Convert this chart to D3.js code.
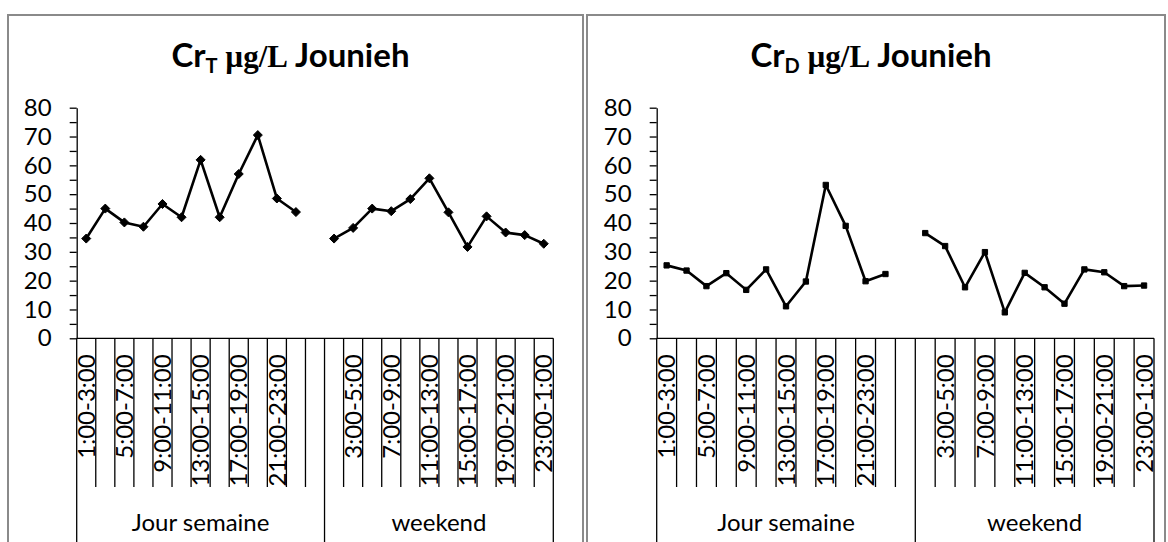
<!DOCTYPE html>
<html>
<head>
<meta charset="utf-8">
<script src="https://cdn.jsdelivr.net/npm/d3@7"></script>
<style>
  body { margin: 0; background: #fff; }
  svg { display: block; }
</style>
</head>
<body>
<svg id="chart" width="1168" height="542"></svg>
<script>
// Two-hour sampling windows
const timeSlots = [
  "1:00-3:00", "3:00-5:00", "5:00-7:00", "7:00-9:00", "9:00-11:00", "11:00-13:00",
  "13:00-15:00", "15:00-17:00", "17:00-19:00", "19:00-21:00", "21:00-23:00", "23:00-1:00"
];
const groups = ["Jour semaine", "weekend"];

// Total chromium (µg/L)
const crT_semaine = [34.6, 45.0, 40.2, 38.7, 46.6, 42.0, 61.9, 42.0, 57.0, 70.5, 48.5, 43.8];
const crT_weekend = [34.6, 38.3, 45.0, 44.1, 48.3, 55.5, 43.7, 31.7, 42.3, 36.7, 35.8, 32.8];
// Dissolved chromium (µg/L)
const crD_semaine = [25.3, 23.5, 18.1, 22.6, 16.8, 23.9, 11.1, 19.7, 53.2, 39.0, 19.8, 22.3];
const crD_weekend = [36.5, 32.0, 17.7, 29.9, 9.0, 22.7, 17.7, 12.0, 23.9, 22.9, 18.1, 18.3];

const yMax = 80;

// Category keys: weekday slots, one empty slot closing the weekday group, weekend slots
const categories = [
  ...timeSlots.map(s => groups[0] + "|" + s),
  groups[0] + "|",
  ...timeSlots.map(s => groups[1] + "|" + s)
];

const FONT = "Lato, 'Open Sans', sans-serif";
const SERIF = "'Liberation Serif', 'DejaVu Serif', serif";
const svg = d3.select("#chart");

const panels = [
  { frame: [8, 583], plot: [76.7, 553.3], sub: "T", marker: "diamond",
    semaine: crT_semaine, weekend: crT_weekend },
  { frame: [587, 1165], plot: [656.7, 1154], sub: "D", marker: "square",
    semaine: crD_semaine, weekend: crD_weekend }
];

const yTop = 107.7, yBottom = 338.3;
const tickEnd = 487, groupLineEnd = 548;

panels.forEach(p => {
  const g = svg.append("g");

  // panel frame
  g.append("rect")
    .attr("x", p.frame[0]).attr("y", 15)
    .attr("width", p.frame[1] - p.frame[0]).attr("height", 560)
    .attr("fill", "#fff").attr("stroke", "#8a8a8a").attr("stroke-width", 2);

  // title
  const cx = (p.frame[0] + p.frame[1]) / 2 - 5;
  const title = g.append("text")
    .attr("x", cx).attr("y", 67)
    .attr("text-anchor", "middle")
    .attr("font-family", FONT).attr("font-weight", "bold")
    .attr("font-size", 33).attr("fill", "#000");
  title.append("tspan").text("Cr");
  title.append("tspan").attr("dy", 6).attr("font-size", 20).text(p.sub);
  title.append("tspan").attr("dy", -6)
    .attr("font-family", SERIF).attr("font-size", 31)
    .text(" \u00b5g/L");
  title.append("tspan").text(" Jounieh");

  const x = d3.scaleBand().domain(categories).range(p.plot).paddingInner(0).paddingOuter(0);
  const y = d3.scaleLinear().domain([0, yMax]).range([yBottom, yTop]);
  const bw = x.bandwidth();

  // y axis
  const yAxis = d3.axisLeft(y)
    .tickValues(d3.range(0, yMax + 1, 5))
    .tickSize(7).tickSizeOuter(0).tickPadding(18)
    .tickFormat(d => d % 10 === 0 ? d : "");
  const ya = g.append("g").attr("transform", `translate(${p.plot[0]},0)`).call(yAxis);
  ya.selectAll("path,line").attr("stroke", "#000").attr("stroke-width", 1.3);
  ya.selectAll("text").attr("font-family", FONT).attr("font-size", 24).attr("fill", "#000");

  // x axis baseline
  g.append("line")
    .attr("x1", p.plot[0]).attr("x2", p.plot[1])
    .attr("y1", y(0)).attr("y2", y(0))
    .attr("stroke", "#000").attr("stroke-width", 1.3);

  // category boundaries; group boundaries run down through the group labels
  const groupStarts = new Set([0, timeSlots.length + 1, categories.length]);
  const bounds = d3.range(categories.length + 1);
  g.append("g").selectAll("line").data(bounds).join("line")
    .attr("x1", i => i < categories.length ? x(categories[i]) : p.plot[1])
    .attr("x2", i => i < categories.length ? x(categories[i]) : p.plot[1])
    .attr("y1", y(0))
    .attr("y2", i => groupStarts.has(i) ? groupLineEnd : tickEnd)
    .attr("stroke", "#000").attr("stroke-width", 1.3);

  // category labels, every other slot
  g.append("g").selectAll("text")
    .data(categories.filter((c, i) => i % 2 === 0))
    .join("text")
    .attr("transform", c => `translate(${x(c) + bw / 2},${y(0) + 16}) rotate(-90)`)
    .attr("dy", "0.36em")
    .attr("text-anchor", "end")
    .attr("font-family", FONT).attr("font-size", 24).attr("fill", "#000")
    .text(c => c.split("|")[1]);

  // group labels
  const groupSpans = [
    [x(categories[0]), x(categories[timeSlots.length + 1])],
    [x(categories[timeSlots.length + 1]), p.plot[1]]
  ];
  g.append("g").selectAll("text").data(groups).join("text")
    .attr("x", (d, i) => (groupSpans[i][0] + groupSpans[i][1]) / 2)
    .attr("y", 531)
    .attr("text-anchor", "middle")
    .attr("font-family", FONT).attr("font-size", 24).attr("fill", "#000")
    .text(d => d);

  // data lines, broken between the two groups
  const line = d3.line().x(d => x(d.cat) + bw / 2).y(d => y(d.v));
  const series = [
    p.semaine.map((v, i) => ({ cat: groups[0] + "|" + timeSlots[i], v })),
    p.weekend.map((v, i) => ({ cat: groups[1] + "|" + timeSlots[i], v }))
  ];
  const sym = d3.symbol()
    .type(p.marker === "diamond" ? d3.symbolDiamond2 : d3.symbolSquare2)
    .size(p.marker === "diamond" ? 52 : 36);

  series.forEach(s => {
    g.append("path").datum(s)
      .attr("d", line)
      .attr("fill", "none").attr("stroke", "#000")
      .attr("stroke-width", 2.6).attr("stroke-linejoin", "round");
    g.append("g").selectAll("path").data(s).join("path")
      .attr("transform", d => `translate(${x(d.cat) + bw / 2},${y(d.v)})`)
      .attr("d", sym)
      .attr("fill", "#000").attr("stroke", "#000").attr("stroke-width", 1);
  });
});
</script>
</body>
</html>
